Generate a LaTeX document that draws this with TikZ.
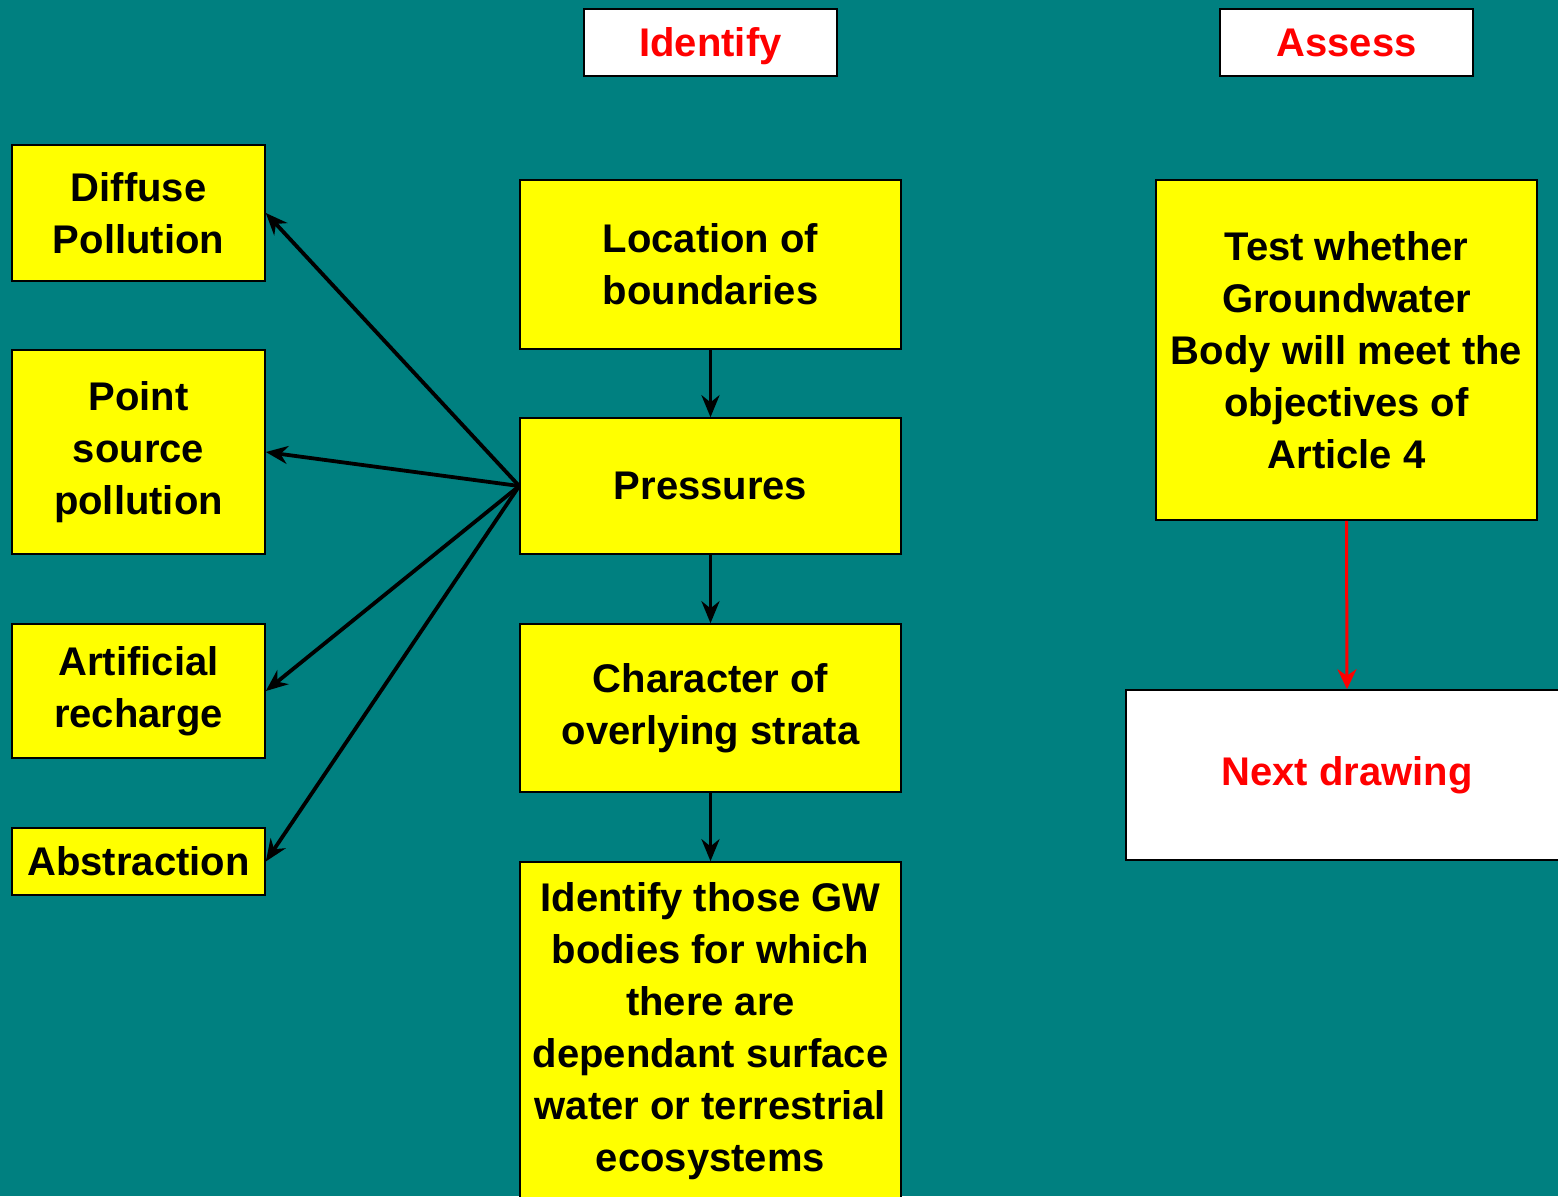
\documentclass[tikz,border=0pt]{standalone}
\usepackage{fontspec}
\setmainfont{Liberation Sans}
\usetikzlibrary{arrows.meta}
\definecolor{teal}{HTML}{008080}
\definecolor{boxyellow}{HTML}{FFFF00}
\definecolor{labelred}{HTML}{FF0000}
\tikzset{
  box/.style={draw=black, line width=0.8pt, rectangle, inner sep=0pt,
    align=center, font=\bfseries\fontsize{20}{26}\selectfont},
  ybox/.style={box, fill=boxyellow, text=black},
  wbox/.style={box, fill=white, text=labelred},
  heading/.style={wbox, minimum width=126.5pt, minimum height=33.5pt,
    text height=16.5pt, text depth=2.5pt},
  link/.style={draw=black, line width=1.9pt, -{Stealth[length=11pt,width=9pt]}},
  redlink/.style={draw=labelred, line width=1.5pt, -{Stealth[length=10pt,width=9.5pt]}}
}
\begin{document}
\begin{tikzpicture}[x=0.5pt, y=-0.5pt]
  \fill[teal] (0,0) rectangle (1558,1196);
  \useasboundingbox (0,0) rectangle (1558,1196);
  \clip (0,0) rectangle (1558,1196);

  % column headings
  \node[heading] (identify) at (710.5,42.5) {Identify};
  \node[heading] (assess) at (1346.5,42.5) {Assess};

  % pressure types
  \node[ybox, minimum width=126.5pt, minimum height=68pt] (diffuse) at (138.5,213) {Diffuse\\Pollution};
  \node[ybox, minimum width=126.5pt, minimum height=102pt] (point) at (138.5,452) {Point\\source\\pollution};
  \node[ybox, minimum width=126.5pt, minimum height=67pt] (artificial) at (138.5,691) {Artificial\\recharge};
  \node[ybox, minimum width=126.5pt, minimum height=33.5pt] (abstraction) at (138.5,861.5) {Abstraction};

  % identification steps
  \node[ybox, minimum width=190.5pt, minimum height=84.5pt] (location) at (710.5,264.5) {Location of\\boundaries};
  \node[ybox, minimum width=190.5pt, minimum height=68pt] (pressures) at (710.5,486) {Pressures};
  \node[ybox, minimum width=190.5pt, minimum height=84pt] (character) at (710.5,708) {Character of\\overlying strata};
  \node[ybox, minimum width=190.5pt, minimum height=169pt] (gwbodies) at (710.5,1031)
    {Identify those GW\\bodies for which\\there are\\dependant surface\\water or terrestrial\\ecosystems};

  % assessment
  \node[ybox, minimum width=190.5pt, minimum height=170pt] (test) at (1346.5,350)
    {Test whether\\Groundwater\\Body will meet the\\objectives of\\Article 4};
  \node[wbox, minimum width=221pt, minimum height=85pt] (next) at (1347,775) {Next drawing};

  % connectors
  \draw[link] (location.south) -- (pressures.north);
  \draw[link] (pressures.south) -- (character.north);
  \draw[link] (character.south) -- (gwbodies.north);
  \draw[link] (pressures.west) -- (diffuse.east);
  \draw[link] (pressures.west) -- (point.east);
  \draw[link] (pressures.west) -- (artificial.east);
  \draw[link] (pressures.west) -- (abstraction.east);
  \draw[redlink] (test.south) -- (next.north);
\end{tikzpicture}
\end{document}
